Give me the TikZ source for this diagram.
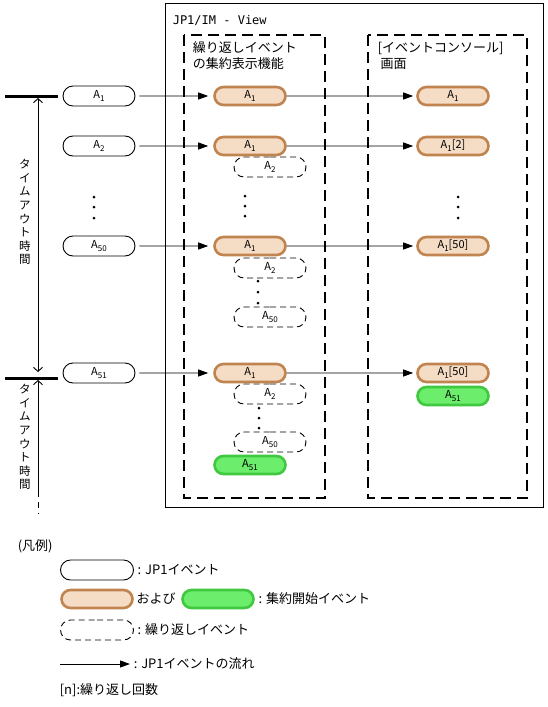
\documentclass[tikz,border=0pt]{standalone}
\usepackage{fontspec}
\setmainfont{Noto Sans CJK JP}
\newfontfamily\titlefont{DejaVu Sans Mono}
\usetikzlibrary{arrows.meta, positioning, shapes.misc}
\definecolor{aggbrown}{RGB}{192,132,80}
\definecolor{aggfill}{RGB}{245,220,197}
\definecolor{stgreen}{RGB}{64,200,64}
\definecolor{stfill}{RGB}{108,238,108}
\newcommand{\evA}[1]{A\raisebox{-3pt}{\footnotesize #1}}

\begin{document}
\begin{tikzpicture}[x=1pt, y=-1pt, >=Stealth, line width=0.9pt,
    jpev/.style={draw, rounded rectangle, minimum width=72pt, minimum height=20pt,
      inner sep=0pt, font=\fontsize{11}{11}\selectfont},
    aggev/.style={jpev, draw=aggbrown, fill=aggfill, line width=2.6pt,
      minimum width=71pt, minimum height=18pt},
    startev/.style={aggev, draw=stgreen, fill=stfill},
    repev/.style={jpev, dash pattern=on 6pt off 4pt, fill=white},
    flow/.style={-{Triangle[length=10pt, width=7pt]}},
    dashbox/.style={line width=2.6pt, dash pattern=on 11pt off 6pt},
    tline/.style={line width=3pt},
    barb/.tip={Straight Barb[length=4pt, width=9pt]},
    jtext/.style={font=\fontsize{13}{16}\selectfont},
    vtext/.style={align=center, font=\fontsize{11.5}{13.6}\selectfont}]

    \useasboundingbox (0,0) rectangle (547,707);

    % outer window and the two dashed areas
    \draw (165,3) rectangle (543,507);
    \node[anchor=west, font=\titlefont\fontsize{12}{12}\selectfont] (title) at (169,20) {JP1/IM - View};
    \draw[dashbox] (184,35) rectangle (325,498);
    \draw[dashbox] (368,35) rectangle (527,498);
    \node[jtext, anchor=west, align=left] (aggHead) at (189,56) {繰り返しイベント\\の集約表示機能};
    \node[jtext, anchor=west, align=left] (conHead) at (374,56) {[イベントコンソール]\\\ 画面};

    % time-out marks on the left
    \coordinate (t1L) at (5,96);
    \coordinate (t1R) at (58,96);
    \coordinate (t2L) at (5,378);
    \coordinate (t2R) at (58,378);
    \coordinate (t1A) at (38,98);
    \coordinate (t1B) at (38,372);
    \coordinate (t2A) at (38,380);
    \coordinate (t2B) at (38,491);
    \coordinate (t2C) at (38,514);
    \draw[tline] (t1L) -- (t1R);
    \draw[tline] (t2L) -- (t2R);
    \draw[barb-barb] (t1A) -- (t1B);
    \draw[barb-] (t2A) -- (t2B);
    \draw[dash pattern=on 6pt off 5pt] (t2B) -- (t2C);
    \node[vtext, inner sep=1pt] (tout1) at (25,212) {タ\\イ\\ム\\ア\\ウ\\ト\\時\\間};
    \node[vtext, inner sep=1pt] (tout2) at (25,437) {タ\\イ\\ム\\ア\\ウ\\ト\\時\\間};

    % incoming JP1 events
    \node[jpev] (inA1) at (99,96) {\evA{1}};
    \node[jpev] (inA2) at (99,146) {\evA{2}};
    \node[jpev] (inA50) at (99,246) {\evA{50}};
    \node[jpev] (inA51) at (99,373) {\evA{51}};

    % aggregated view
    \node[repev] (rA2a) at (270,167) {\evA{2}};
    \node[repev] (rA2b) at (270,268) {\evA{2}};
    \node[repev] (rA50b) at (270,317) {\evA{50}};
    \node[repev] (rA2c) at (270,394) {\evA{2}};
    \node[repev] (rA50c) at (270,442) {\evA{50}};
    \node[aggev] (mA1) at (250,96) {\evA{1}};
    \node[aggev] (mA2) at (250,146) {\evA{1}};
    \node[aggev] (mA50) at (250,246) {\evA{1}};
    \node[aggev] (mA51) at (250,373) {\evA{1}};
    \node[startev] (sA51) at (250,465) {\evA{51}};

    % event console
    \node[aggev] (cA1) at (453,96) {\evA{1}};
    \node[aggev] (cA2) at (453,146) {\evA{1}[2]};
    \node[aggev] (cA50) at (453,246) {\evA{1}[50]};
    \node[aggev] (cA51) at (453,373) {\evA{1}[50]};
    \node[startev] (cS51) at (453,396) {\evA{51}};

    % flows
    \foreach \n in {1,2,50,51} {
        \draw[flow, shorten <=4pt, shorten >=5pt] (inA\n) -- (mA\n);
        \draw[flow, shorten >=3pt] (mA\n) -- (cA\n);
    }

    % dots
    \foreach \y in {197,207,218} {
        \fill (94,\y) circle (1.5pt) (458,\y) circle (1.5pt);
    }
    \foreach \y in {196,206,216} \fill (245,\y) circle (1.5pt);
    \foreach \y in {281,292,303} \fill (258,\y) circle (1.5pt);
    \foreach \y in {408,418,428} \fill (259,\y) circle (1.5pt);

    % legend
    \node[jtext, anchor=west] (legend) at (14,546) {(凡例)};
    \node[jpev, minimum width=73pt] (lgJP) at (97,570) {};
    \node[jtext, anchor=west] (lgJPTxt) at (lgJP.east) {: JP1イベント};
    \node[aggev] (lgAgg) at (97,599) {};
    \node[jtext, right=-1pt of lgAgg] (lgAnd) {および};
    \node[startev] (lgStart) at (218,599) {};
    \node[jtext, anchor=west] (lgStartTxt) at (lgStart.east) {: 集約開始イベント};
    \node[repev, minimum width=73pt] (lgRep) at (97,630) {};
    \node[jtext, anchor=west] (lgRepTxt) at (lgRep.east) {: 繰り返しイベント};
    \coordinate (lgFlowS) at (60,664);
    \node[jtext, anchor=west] (lgFlowTxt) at (130,664) {: JP1イベントの流れ};
    \draw[flow] (lgFlowS) -- (lgFlowTxt.west);
    \node[jtext, anchor=west] (lgCount) at (56,690) {[n]:繰り返し回数};
%
\end{tikzpicture}
\end{document}
